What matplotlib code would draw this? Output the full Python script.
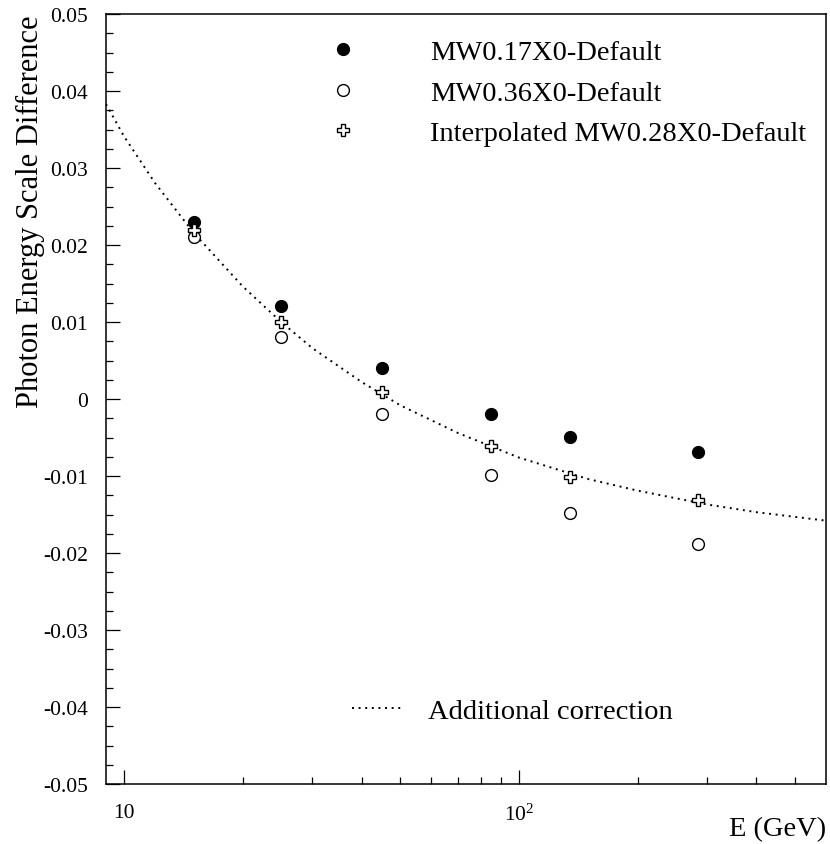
import matplotlib
matplotlib.use("Agg")
import matplotlib.pyplot as plt
from matplotlib.ticker import FixedLocator, FuncFormatter, MultipleLocator, NullFormatter

plt.rcParams['font.family'] = ['Liberation Serif', 'DejaVu Serif']
plt.rcParams['mathtext.fontset'] = 'custom'
plt.rcParams['mathtext.rm'] = 'Liberation Serif'
plt.rcParams['mathtext.it'] = 'Liberation Serif:italic'

# Data
energy = [15, 25, 45, 85, 135, 285]
mw017 = [0.0230, 0.0121, 0.0040, -0.0019, -0.0049, -0.0069]
mw036 = [0.0210, 0.0080, -0.0020, -0.0099, -0.0148, -0.0188]
interp028 = [0.0220, 0.0100, 0.0009, -0.0061, -0.0101, -0.0131]

corr_e = [9, 10, 12, 15, 20, 25, 30, 40, 50, 70, 100, 150, 200, 300, 400, 600]
corr_v = [0.0383, 0.0341, 0.0280, 0.0216, 0.0146, 0.0100, 0.0066, 0.0022,
          -0.0008, -0.0044, -0.0076, -0.0104, -0.0119, -0.0137, -0.0147, -0.0158]

xmajor = [10, 100]
xminor = [20, 30, 40, 50, 60, 70, 80, 90, 200, 300, 400, 500]

W, H = 830, 845
fig = plt.figure(figsize=(W / 100, H / 100), dpi=100)
ax = fig.add_axes([106 / W, 1 - 785 / H, (826 - 106) / W, (785 - 15) / H])

ax.set_xscale('log')
ax.set_xlim(9, 600)
ax.set_ylim(-0.05, 0.05)

line, = ax.plot(corr_e, corr_v, color='black', lw=1.4, linestyle=(0, (1, 2.4)),
                label='Additional correction')
h1, = ax.plot(energy, mw017, 'o', ms=8.5, mfc='black', mec='black', mew=1,
              linestyle='none', label='MW0.17X0-Default')
h2, = ax.plot(energy, mw036, 'o', ms=8.5, mfc='white', mec='black', mew=1,
              linestyle='none', label='MW0.36X0-Default')
h3, = ax.plot(energy, interp028, 'P', ms=9, mfc='white', mec='black', mew=1,
              linestyle='none', label='Interpolated MW0.28X0-Default')

ax.xaxis.set_major_locator(FixedLocator(xmajor))
ax.xaxis.set_minor_locator(FixedLocator(xminor))
ax.xaxis.set_minor_formatter(NullFormatter())
ax.xaxis.set_major_formatter(FuncFormatter(lambda v, p: '10' if abs(v - 10) < 1e-6 else r'$10^{2}$'))
ax.yaxis.set_major_locator(MultipleLocator(0.01))
ax.yaxis.set_minor_locator(MultipleLocator(0.0025))
ax.yaxis.set_major_formatter(FuncFormatter(lambda v, p: '0' if abs(v) < 1e-9 else f'{v:.2f}'))

for sp in ax.spines.values():
    sp.set_linewidth(1.1)
ax.tick_params(which='both', direction='in', top=False, right=False, labelsize=15.5, width=0.9)
ax.tick_params(which='major', length=10)
ax.tick_params(which='minor', length=5)
ax.tick_params(axis='y', which='major', pad=13)
ax.tick_params(axis='x', which='major', pad=14)

fig.text(30 / W, 1 - 15 / H, 'Photon Energy Scale Difference', fontsize=22,
         rotation=90, ha='center', va='top')
fig.text(826 / W, 1 - 830 / H, 'E (GeV)', fontsize=20.5, ha='right', va='center')

leg1 = ax.legend(handles=[h1, h2, h3], loc='upper left',
                 bbox_to_anchor=(315 / W, 1 - 40 / H), bbox_transform=fig.transFigure,
                 frameon=False, fontsize=20.5, handlelength=2, handletextpad=2.05,
                 labelspacing=0.52, borderpad=0, borderaxespad=0)
ax.add_artist(leg1)
leg2 = ax.legend(handles=[line], loc='upper left',
                 bbox_to_anchor=(352 / W, 1 - 699 / H), bbox_transform=fig.transFigure,
                 frameon=False, fontsize=20.5, handlelength=1.75, handletextpad=0.92,
                 borderpad=0, borderaxespad=0)

fig.savefig('out.png', dpi=100)
